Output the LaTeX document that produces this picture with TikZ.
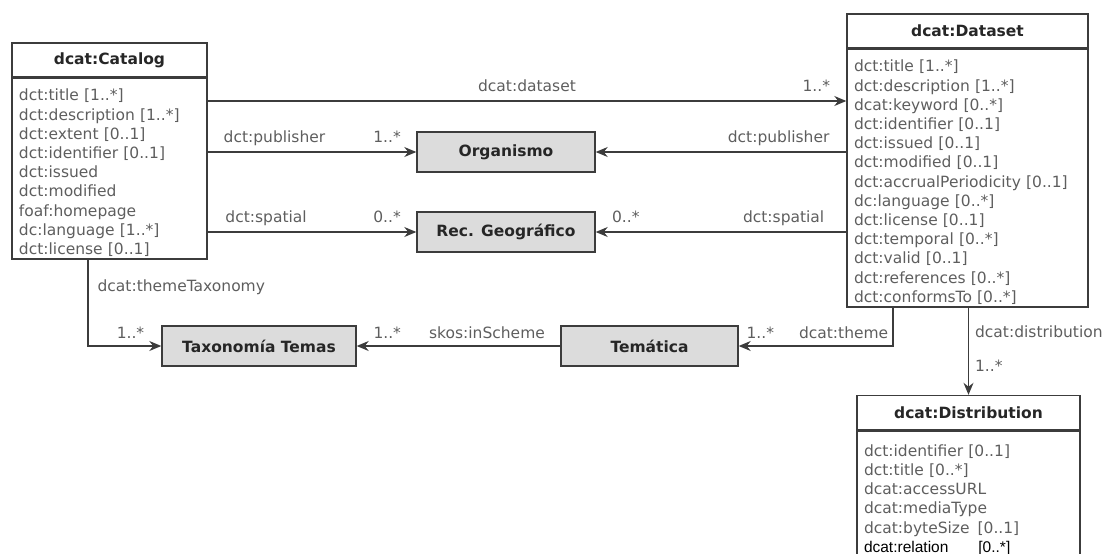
\documentclass[tikz,border=0pt]{standalone}
\usepackage{fontspec}
\setmainfont{DejaVu Sans}
\newfontfamily\relfont{Liberation Sans}
\usetikzlibrary{positioning,arrows.meta}
\definecolor{boxline}{HTML}{3C3C3C}
\definecolor{attrgray}{HTML}{5E5E5E}
\definecolor{gfill}{HTML}{DCDCDC}
\newcommand{\topgap}{\rule{0pt}{20pt}}

\begin{document}
\begin{tikzpicture}[x=1pt, y=-1pt, font=\fontsize{15.5}{19.2}\selectfont]
\tikzstyle{head} = [draw=boxline, line width=1.4pt, minimum height=34pt, inner sep=0pt, font=\fontsize{15.5}{19.2}\selectfont\bfseries, text=black!85]
\tikzstyle{body} = [draw=boxline, line width=1.4pt, align=left, inner xsep=7pt, inner ysep=2.5pt, text=attrgray]
\tikzstyle{cls} = [draw=boxline, line width=1.4pt, fill=gfill, minimum height=40pt, font=\fontsize{15.5}{19.2}\selectfont\bfseries, text=black!85]
\tikzstyle{e} = [draw=boxline, line width=1.2pt, -{Stealth[length=12pt, width=10pt]}]
\tikzstyle{l} = [text=attrgray, inner sep=1pt, text height=11.8pt, text depth=3.7pt]

\useasboundingbox (0,0) rectangle (1104,554);

\node[head, minimum width=195pt] (cathead) at (109.5,60) {dcat:Catalog};
\node[body, text width=181pt, below=0pt of cathead] (catattr) {\topgap dct:title [1..*]\\
dct:description [1..*]\\
dct:extent [0..1]\\
dct:identifier [0..1]\\
dct:issued\\
dct:modified\\
foaf:homepage\\
dc:language [1..*]\\
dct:license [0..1]};

\node[head, minimum width=241pt] (dshead) at (967.5,31) {dcat:Dataset};
\node[body, text width=227pt, below=0pt of dshead] (dsattr) {\topgap dct:title [1..*]\\
dct:description [1..*]\\
dcat:keyword [0..*]\\
dct:identifier [0..1]\\
dct:issued [0..1]\\
dct:modified [0..1]\\
dct:accrualPeriodicity [0..1]\\
dc:language [0..*]\\
dct:license [0..1]\\
dct:temporal [0..*]\\
dct:valid [0..1]\\
dct:references [0..*]\\
dct:conformsTo [0..*]};

\node[head, minimum width=223pt] (disthead) at (968.5,412.5) {dcat:Distribution};
\node[body, text width=209pt, below=0pt of disthead, minimum height=130pt] (distattr) {\topgap dct:identifier [0..1]\\
dct:title [0..*]\\
dcat:accessURL\\
dcat:mediaType\\
dcat:byteSize\hspace{8pt}[0..1]\\
{\relfont\color{black}dcat:relation\hspace{30pt}[0..*]}};

\node[cls, minimum width=178pt] (org) at (506,152) {Organismo};
\node[cls, minimum width=178pt] (geo) at (506,232) {Rec. Geográfico};
\node[cls, minimum width=194pt] (tax) at (259,346) {Taxonomía Temas};
\node[cls, minimum width=177pt] (tem) at (649.5,346) {Temática};

\coordinate (dsy) at (0,101);
\coordinate (thx) at (88,0);
\coordinate (thy) at (893,0);

\draw[e] (catattr.east |- dsy) -- node[l, above=4pt, pos=0.5] {dcat:dataset} node[l, above=4pt, pos=0.953] {1..*} (dsattr.west |- dsy);
\draw[e] (catattr.east |- org) -- node[l, above=4pt, pos=0.32] {dct:publisher} node[l, above=4pt, pos=0.86] {1..*} (org.west);
\draw[e] (dsattr.west |- org) -- node[l, above=4pt, pos=0.27] {dct:publisher} (org.east);
\draw[e] (catattr.east |- geo) -- node[l, above=4pt, pos=0.28] {dct:spatial} node[l, above=4pt, pos=0.86] {0..*} (geo.west);
\draw[e] (dsattr.west |- geo) -- node[l, above=4pt, pos=0.25] {dct:spatial} node[l, above=4pt, pos=0.88] {0..*} (geo.east);
\draw[e] (catattr.south -| thx) |- node[l, right=8pt, pos=0.16] {dcat:themeTaxonomy} node[l, above=2pt, pos=0.79] {1..*} (tax.west);
\draw[e] (tem.west) -- node[l, above=2pt, pos=0.36] {skos:inScheme} node[l, above=2pt, pos=0.85] {1..*} (tax.east);
\draw[e] (dsattr.south -| thy) |- node[l, above=2pt, pos=0.66] {dcat:theme} node[l, above=2pt, pos=0.93] {1..*} (tem.east);
\draw[e] (dsattr.south -| disthead.north) -- node[l, right=5pt, pos=0.3] {dcat:distribution} node[l, right=5pt, pos=0.69] {1..*} (disthead.north);
\end{tikzpicture}
\end{document}
